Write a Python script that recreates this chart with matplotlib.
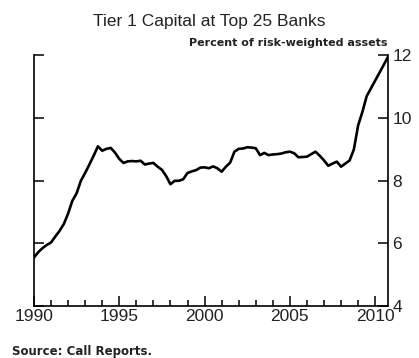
import matplotlib
matplotlib.use('Agg')
import matplotlib.pyplot as plt
import numpy as np

# Quarterly Tier 1 capital ratio, 1990Q1 - 2010Q4
years = list(range(1990, 2011))
tier1 = [
    5.55, 5.72, 5.85, 5.95,   # 1990
    6.03, 6.22, 6.40, 6.62,   # 1991
    6.95, 7.36, 7.60, 8.00,   # 1992
    8.25, 8.52, 8.80, 9.10,   # 1993
    8.96, 9.02, 9.05, 8.90,   # 1994
    8.70, 8.57, 8.62, 8.63,   # 1995
    8.62, 8.64, 8.52, 8.55,   # 1996
    8.57, 8.45, 8.35, 8.15,   # 1997
    7.89, 8.00, 8.00, 8.05,   # 1998
    8.25, 8.30, 8.34, 8.42,   # 1999
    8.43, 8.40, 8.46, 8.40,   # 2000
    8.29, 8.45, 8.58, 8.93,   # 2001
    9.02, 9.03, 9.07, 9.06,   # 2002
    9.04, 8.82, 8.89, 8.82,   # 2003
    8.84, 8.85, 8.87, 8.91,   # 2004
    8.93, 8.88, 8.75, 8.76,   # 2005
    8.77, 8.85, 8.93, 8.80,   # 2006
    8.65, 8.48, 8.55, 8.61,   # 2007
    8.45, 8.55, 8.65, 9.00,   # 2008
    9.77, 10.20, 10.70, 10.95,  # 2009
    11.20, 11.45, 11.70, 11.96,  # 2010
]
y_ticks = [4, 6, 8, 10, 12]
x_labels = [1990, 1995, 2000, 2005, 2010]

dates = np.array([y + q * 0.25 for y in years for q in range(4)])

fig = plt.figure(figsize=(4.19, 3.58), dpi=100)
ax = fig.add_axes([0.081, 0.145, 0.845, 0.70])

ax.plot(dates, tier1, color='black', linewidth=1.9)

ax.set_xlim(1990, 2010.75)
ax.set_ylim(4, 12)

ax.spines['top'].set_visible(False)
for s in ['left', 'right', 'bottom']:
    ax.spines[s].set_linewidth(1.2)

ax.set_yticks(y_ticks)
ax.yaxis.tick_right()
ax.tick_params(axis='y', which='both', direction='in', left=True, right=True,
               labelleft=False, labelright=True, length=7, width=1.1,
               labelsize=12.5, pad=3, labelcolor='#222222')
ax.set_xticks(x_labels)
ax.set_xticks(years, minor=True)
ax.tick_params(axis='x', which='major', direction='in', length=7, width=1.1,
               labelsize=12.5, pad=2, labelcolor='#222222')
ax.tick_params(axis='x', which='minor', direction='in', length=4, width=1.1)
for lbl in ax.get_xticklabels() + ax.get_yticklabels():
    lbl.set_family('Liberation Sans')

fig.text(0.5, 0.94, 'Tier 1 Capital at Top 25 Banks', ha='center', va='center',
         fontsize=12.5, family='Liberation Sans', color='#222222')
fig.text(0.926, 0.88, 'Percent of risk-weighted assets', ha='right', va='center',
         fontsize=8, fontweight='semibold', family='DejaVu Sans', color='#222222')
fig.text(0.028, 0.018, 'Source: Call Reports.', ha='left', va='center',
         fontsize=8.5, fontweight='semibold', family='DejaVu Sans', color='#222222')

fig.savefig('out.png', dpi=100)
